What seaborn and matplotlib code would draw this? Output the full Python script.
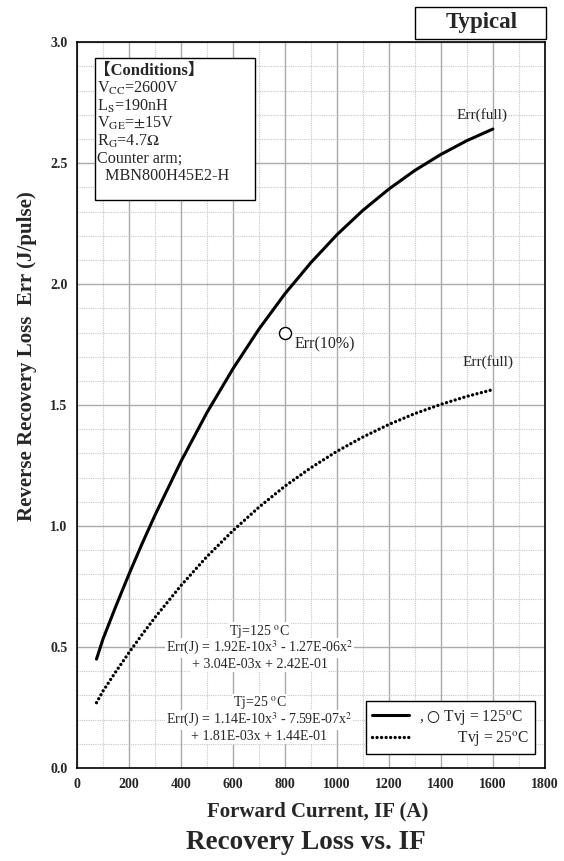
import numpy as np
import pandas as pd
import matplotlib
matplotlib.use("Agg")
import matplotlib.pyplot as plt
import seaborn as sns
from matplotlib.lines import Line2D
from matplotlib.patches import Rectangle
from matplotlib.ticker import MultipleLocator, FormatStrFormatter

# values
current = [75, 100, 150, 200, 250, 300, 400, 500, 600, 700, 800,
           900, 1000, 1100, 1200, 1300, 1400, 1500, 1600]
err_125 = [0.450, 0.533, 0.670, 0.801, 0.926, 1.045, 1.267, 1.469, 1.650,
           1.814, 1.960, 2.089, 2.204, 2.305, 2.393, 2.470, 2.536, 2.593,
           2.641]
err_25 = [0.270, 0.318, 0.399, 0.477, 0.551, 0.622, 0.754, 0.874, 0.981,
          1.078, 1.165, 1.241, 1.309, 1.368, 1.420, 1.465, 1.503, 1.536,
          1.564]
err10_x = [800]
err10_y = [1.80]

conditions = [
    r"V$_{\rm CC}$=2600V",
    r"L$_{\rm S}$=190nH",
    r"V$_{\rm GE}$=$\pm$15V",
    r"R$_{\rm G}$=4.7$\Omega$",
    "Counter arm;",
    "  MBN800H45E2-H",
]
eq_125 = [r"Tj=125 $^{\rm o}$C",
          r"Err(J) = 1.92E-10x$^{3}$ - 1.27E-06x$^{2}$",
          "+ 3.04E-03x + 2.42E-01"]
eq_25 = [r"Tj=25 $^{\rm o}$C",
         r"Err(J) = 1.14E-10x$^{3}$ - 7.59E-07x$^{2}$",
         "+ 1.81E-03x + 1.44E-01"]

df = pd.DataFrame({"IF": current, "Err125": err_125, "Err25": err_25})

sns.set_style("white")
plt.rcParams["font.family"] = ["Liberation Serif", "DejaVu Serif"]
plt.rcParams["mathtext.fontset"] = "stix"

dotted = (0, (0.01, 1.35))

fig = plt.figure(figsize=(5.64, 8.61), dpi=100)
ax = fig.add_axes([0.1365, 0.108, 0.8295, 0.843])

sns.lineplot(data=df, x="IF", y="Err125", ax=ax, color="black", lw=2.2)
sns.lineplot(data=df, x="IF", y="Err25", ax=ax, color="black", lw=2.4,
             linestyle=dotted, dash_capstyle="round")
sns.scatterplot(x=err10_x, y=err10_y, ax=ax, s=75, facecolor="white",
                edgecolor="black", linewidth=1.0, zorder=5)

ax.set_xlim(0, 1800)
ax.set_ylim(0, 3.0)
ax.xaxis.set_major_locator(MultipleLocator(200))
ax.xaxis.set_minor_locator(MultipleLocator(100))
ax.yaxis.set_major_locator(MultipleLocator(0.5))
ax.yaxis.set_minor_locator(MultipleLocator(0.1))
ax.yaxis.set_major_formatter(FormatStrFormatter("%.1f"))
ax.grid(which="major", color="#aaaaaa", lw=1.0, ls="-")
ax.grid(which="minor", color="#c8c8c8", lw=0.8, ls=(0, (1, 1)))
ax.set_axisbelow(True)
ax.tick_params(which="major", direction="in", length=4, width=1,
               labelsize=10, pad=7)
ax.tick_params(which="minor", length=0)
for lab in ax.get_xticklabels() + ax.get_yticklabels():
    lab.set_fontweight("bold")
for sp in ax.spines.values():
    sp.set_color("black")
    sp.set_linewidth(1.2)

ax.set_xlabel("Forward Current, IF (A)", fontsize=15, fontweight="bold")
ax.xaxis.set_label_coords(0.515, -0.046)
ax.set_ylabel("Reverse Recovery Loss  Err (J/pulse)", fontsize=15,
              fontweight="bold")
ax.yaxis.set_label_coords(-0.085, 0.567)
fig.text(0.5426, 0.022, "Recovery Loss vs. IF", ha="center", va="center",
         fontsize=19.5, fontweight="bold")

# Typical box
fig.patches.append(Rectangle((0.7358, 0.9547), 0.2323, 0.0372,
                             transform=fig.transFigure, fc="white",
                             ec="black", lw=1.0))
fig.text(0.8546, 0.9733, "Typical", ha="center", va="center", fontsize=16.5,
         fontweight="bold")

# conditions box
ax.add_patch(Rectangle((0.038, 0.782), 0.342, 0.196, transform=ax.transAxes,
                       fc="white", ec="black", lw=1.0, zorder=6))
ax.text(0.036, 0.96, "【Conditions】", transform=ax.transAxes, fontsize=12,
        fontweight="bold", va="center", ha="left", zorder=7,
        family=["Liberation Serif", "Noto Sans CJK JP"])
for i, line in enumerate(conditions):
    ax.text(0.042, 0.936 - i * 0.0242, line, transform=ax.transAxes,
            fontsize=11.6, va="center", ha="left", zorder=7)

# curve annotations
ax.text(1462, 2.70, "Err(full)", fontsize=11, va="center", ha="left")
ax.text(1485, 1.68, "Err(full)", fontsize=11, va="center", ha="left")
ax.text(838, 1.75, "Err(10%)", fontsize=11.5, va="center", ha="left")

# fitting equations
for i, line in enumerate(eq_125):
    ax.text(702, 0.566 - i * 0.07, line, fontsize=10, ha="center",
            va="center", bbox=dict(fc="white", ec="none", pad=0.6))
for i, line in enumerate(eq_25):
    ax.text(702, 0.269 - i * 0.07, line, fontsize=10, ha="center",
            va="center", bbox=dict(fc="white", ec="none", pad=0.6))

handles = [Line2D([], [], color="black", lw=2.2),
           Line2D([], [], color="black", lw=2.4, ls=dotted,
                  dash_capstyle="round")]
labels = [r", $\bigcirc$ Tvj = 125$^{\rm o}$C",
          r"          Tvj = 25$^{\rm o}$C"]
leg = ax.legend(handles, labels, loc="lower right",
                bbox_to_anchor=(0.979, 0.019), borderaxespad=0,
                fontsize=11.2, frameon=True, fancybox=False,
                edgecolor="black", framealpha=1, handlelength=2.4,
                handletextpad=0.6, borderpad=0.4, labelspacing=0.15)
leg.get_frame().set_linewidth(1.0)

fig.savefig("out.png", dpi=100)
